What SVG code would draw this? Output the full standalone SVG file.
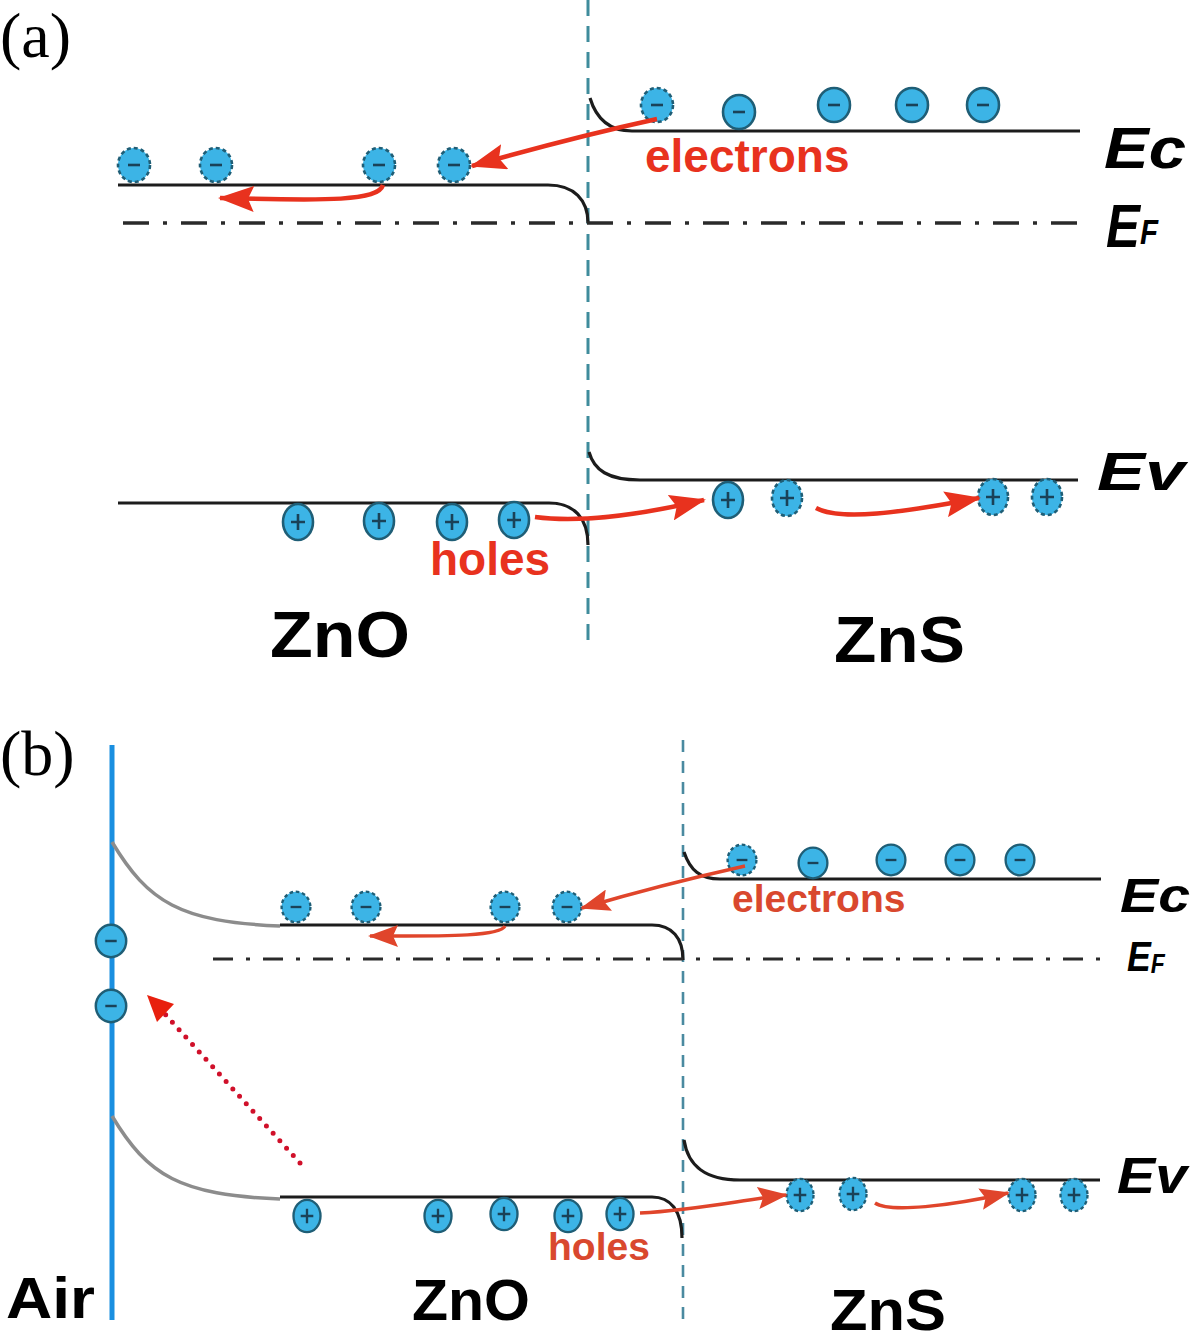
<svg xmlns="http://www.w3.org/2000/svg" xmlns:xlink="http://www.w3.org/1999/xlink" width="1200" height="1341" viewBox="0 0 1200 1341">
<style>
.bg{fill:#ffffff}
.band{fill:none;stroke:#1c1c1c;stroke-width:3.2}
.fermiA{fill:none;stroke:#2a2a2a;stroke-width:3.5;stroke-dasharray:26 14 4 14}
.fermiB{fill:none;stroke:#2a2a2a;stroke-width:3.2;stroke-dasharray:20 13 4 13}
.iface{fill:none;stroke:#3f8c9c;stroke-width:3;stroke-dasharray:16 10}
.ifaceB{fill:none;stroke:#4a8aa0;stroke-width:2.6;stroke-dasharray:12 9}
.air{fill:none;stroke:#1a8fe0;stroke-width:5}
.gray{fill:none;stroke:#8c8c8c;stroke-width:3.5}
.q{fill:#3cb4e6;stroke:#1f5e76;stroke-width:2.6}
.d{stroke-dasharray:4 3}
.sg{fill:none;stroke:#1a4258;stroke-width:2.6}
.arA{fill:none;stroke:#e8321e;stroke-width:4.5}
.arB{fill:none;stroke:#e0452b;stroke-width:3.4}
.dot{fill:none;stroke:#d0102a;stroke-width:5;stroke-linecap:round;stroke-dasharray:0 10}
.lab{font-family:"Liberation Sans",Arial,sans-serif;font-weight:bold;fill:#000}
.en{font-family:"Liberation Sans",Arial,sans-serif;font-weight:bold;font-style:italic;fill:#000}
.red{font-family:"Liberation Sans",Arial,sans-serif;font-weight:bold;fill:#e8321e}
.redB{font-family:"Liberation Sans",Arial,sans-serif;font-weight:bold;fill:#d9482e}
.pan{font-family:"Liberation Serif","Times New Roman",serif;fill:#000}
</style>
<defs>
<marker id="ha" viewBox="0 0 36 26" refX="34" refY="13" markerWidth="36" markerHeight="26" markerUnits="userSpaceOnUse" orient="auto"><path d="M0,0 L36,13 L0,26 L6,13 z" fill="#e8321e"/></marker>
<marker id="hb" viewBox="0 0 30 22" refX="28" refY="11" markerWidth="30" markerHeight="22" markerUnits="userSpaceOnUse" orient="auto"><path d="M0,0 L30,11 L0,22 L5,11 z" fill="#e0452b"/></marker>
<g id="el"><ellipse rx="16" ry="17" class="q"/><line x1="-6" y1="0" x2="6" y2="0" class="sg"/></g>
<g id="eld"><ellipse rx="16" ry="17" class="q d"/><line x1="-6" y1="0" x2="6" y2="0" class="sg"/></g>
<g id="ho"><ellipse rx="15" ry="18" class="q"/><path d="M-7,0H7M0,-8V8" class="sg"/></g>
<g id="hod"><ellipse rx="15" ry="18" class="q d"/><path d="M-7,0H7M0,-8V8" class="sg"/></g>
</defs>
<rect class="bg" x="0" y="0" width="1200" height="1341"/>

<!-- ===== Panel (a) ===== -->
<g id="panel-a">
  <text class="pan" x="0" y="57" font-size="64">(a)</text>
  <g id="a-interface"><line class="iface" x1="588" y1="0" x2="588" y2="642"/></g>
  <g id="a-bands">
    <path class="band" d="M590,98 C596,118 608,131 632,131 L1080,131"/>
    <path class="band" d="M118,185 L548,185 C574,185 588,200 588,223"/>
    <path class="fermiA" d="M123,223 L1080,223"/>
    <path class="band" d="M589,452 C594,470 608,480 640,480 L1078,480"/>
    <path class="band" d="M118,503 L549,503 C574,503 588,518 588,545"/>
  </g>
  <g id="a-electrons-zns">
    <use xlink:href="#eld" x="657" y="105"/>
    <use xlink:href="#el" x="739" y="112"/>
    <use xlink:href="#el" x="834" y="105"/>
    <use xlink:href="#el" x="912" y="105"/>
    <use xlink:href="#el" x="983" y="105"/>
  </g>
  <g id="a-electrons-zno">
    <use xlink:href="#eld" x="134" y="165"/>
    <use xlink:href="#eld" x="216" y="165"/>
    <use xlink:href="#eld" x="379" y="165"/>
    <use xlink:href="#eld" x="454" y="165"/>
  </g>
  <g id="a-holes-zno">
    <use xlink:href="#ho" x="298" y="522"/>
    <use xlink:href="#ho" x="379" y="521"/>
    <use xlink:href="#ho" x="452" y="522"/>
    <use xlink:href="#ho" x="514" y="520"/>
  </g>
  <g id="a-holes-zns">
    <use xlink:href="#ho" x="728" y="500"/>
    <use xlink:href="#hod" x="787" y="498"/>
    <use xlink:href="#hod" x="993" y="497"/>
    <use xlink:href="#hod" x="1047" y="497"/>
  </g>
  <g id="a-labels">
    <text class="red" x="645" y="172" font-size="46">electrons</text>
    <text class="red" x="430" y="575" font-size="46">holes</text>
    <text class="en" x="1104" y="168" font-size="57" textLength="82" lengthAdjust="spacingAndGlyphs">Ec</text>
    <text class="en" transform="translate(1106,247) scale(0.82,1)" font-size="62">E<tspan font-size="36" dy="-3">F</tspan></text>
    <text class="en" x="1097" y="490" font-size="54" textLength="88" lengthAdjust="spacingAndGlyphs">Ev</text>
    <text class="lab" x="270" y="657" font-size="64" textLength="140" lengthAdjust="spacingAndGlyphs">ZnO</text>
    <text class="lab" x="834" y="662" font-size="64" textLength="131" lengthAdjust="spacingAndGlyphs">ZnS</text>
  </g>
</g>

<!-- ===== Panel (b) ===== -->
<g id="panel-b">
  <text class="pan" x="0" y="775" font-size="64">(b)</text>
  <g id="b-air"><line class="air" x1="112" y1="745" x2="112" y2="1320"/></g>
  <g id="b-interface"><line class="ifaceB" x1="683" y1="740" x2="683" y2="1320"/></g>
  <g id="b-bands">
    <path class="gray" d="M112,842 C148,902 180,922 280,926"/>
    <path class="gray" d="M112,1116 C148,1176 180,1195 280,1199"/>
    <path class="band" d="M280,925 L652,925 C672,925 683,938 683,960"/>
    <path class="fermiB" d="M213,959 L1100,959"/>
    <path class="band" d="M684,852 C690,870 700,879 720,879 L1101,879"/>
    <path class="band" d="M684,1140 C688,1166 705,1180 740,1180 L1100,1180"/>
    <path class="band" d="M280,1197 L652,1197 C670,1197 682,1210 682,1238"/>
  </g>
  <g id="b-electrons-air">
    <use xlink:href="#el" transform="translate(111,941) scale(0.95)"/>
    <use xlink:href="#el" transform="translate(111,1006) scale(0.95)"/>
  </g>
  <g id="b-electrons-zns">
    <use xlink:href="#eld" transform="translate(742,860) scale(0.9)"/>
    <use xlink:href="#el" transform="translate(813,863) scale(0.9)"/>
    <use xlink:href="#el" transform="translate(891,860) scale(0.9)"/>
    <use xlink:href="#el" transform="translate(960,860) scale(0.9)"/>
    <use xlink:href="#el" transform="translate(1020,860) scale(0.9)"/>
  </g>
  <g id="b-electrons-zno">
    <use xlink:href="#eld" transform="translate(296,907) scale(0.9)"/>
    <use xlink:href="#eld" transform="translate(366,907) scale(0.9)"/>
    <use xlink:href="#eld" transform="translate(505,907) scale(0.9)"/>
    <use xlink:href="#eld" transform="translate(567,907) scale(0.9)"/>
  </g>
  <g id="b-holes-zno">
    <use xlink:href="#ho" transform="translate(307,1216) scale(0.9)"/>
    <use xlink:href="#ho" transform="translate(438,1216) scale(0.9)"/>
    <use xlink:href="#ho" transform="translate(504,1214) scale(0.9)"/>
    <use xlink:href="#ho" transform="translate(568,1216) scale(0.9)"/>
    <use xlink:href="#ho" transform="translate(620,1214) scale(0.9)"/>
  </g>
  <g id="b-holes-zns">
    <use xlink:href="#hod" transform="translate(800,1195) scale(0.9)"/>
    <use xlink:href="#hod" transform="translate(853,1194) scale(0.9)"/>
    <use xlink:href="#hod" transform="translate(1022,1195) scale(0.9)"/>
    <use xlink:href="#hod" transform="translate(1074,1195) scale(0.9)"/>
  </g>
  <g id="b-labels">
    <text class="redB" x="732" y="912" font-size="39">electrons</text>
    <text class="redB" x="548" y="1260" font-size="39">holes</text>
    <text class="en" x="1120" y="912" font-size="48" textLength="70" lengthAdjust="spacingAndGlyphs">Ec</text>
    <text class="en" transform="translate(1127,971) scale(0.85,1)" font-size="42">E<tspan font-size="27" dy="2">F</tspan></text>
    <text class="en" x="1117" y="1193" font-size="50" textLength="70" lengthAdjust="spacingAndGlyphs">Ev</text>
    <text class="lab" x="6" y="1318" font-size="58" textLength="89" lengthAdjust="spacingAndGlyphs">Air</text>
    <text class="lab" x="412" y="1320" font-size="58" textLength="118" lengthAdjust="spacingAndGlyphs">ZnO</text>
    <text class="lab" x="830" y="1330" font-size="58" textLength="116" lengthAdjust="spacingAndGlyphs">ZnS</text>
  </g>
</g>

<!-- ===== Connectors ===== -->
<g id="connectors">
  <path class="arA" d="M657,119 Q570,138 472,166" marker-end="url(#ha)"/>
  <path class="arA" d="M383,185 C378,201 330,201 220,198" marker-end="url(#ha)"/>
  <path class="arA" d="M535,517 C580,523 640,515 704,500" marker-end="url(#ha)"/>
  <path class="arA" d="M816,508 C840,521 900,513 979,498" marker-end="url(#ha)"/>
  <path class="arB" d="M745,866 Q660,885 582,908" marker-end="url(#hb)"/>
  <path class="arB" d="M505,926 C500,937 440,936 370,936" marker-end="url(#hb)"/>
  <path class="arB" d="M640,1213 C700,1210 740,1200 786,1195" marker-end="url(#hb)"/>
  <path class="arB" d="M875,1203 C890,1213 950,1206 1008,1193" marker-end="url(#hb)"/>
  <path class="dot" d="M300,1163 L164,1013"/>
  <polygon points="147,995 174,1004 157,1022" fill="#e8200e"/>
</g>
</svg>
